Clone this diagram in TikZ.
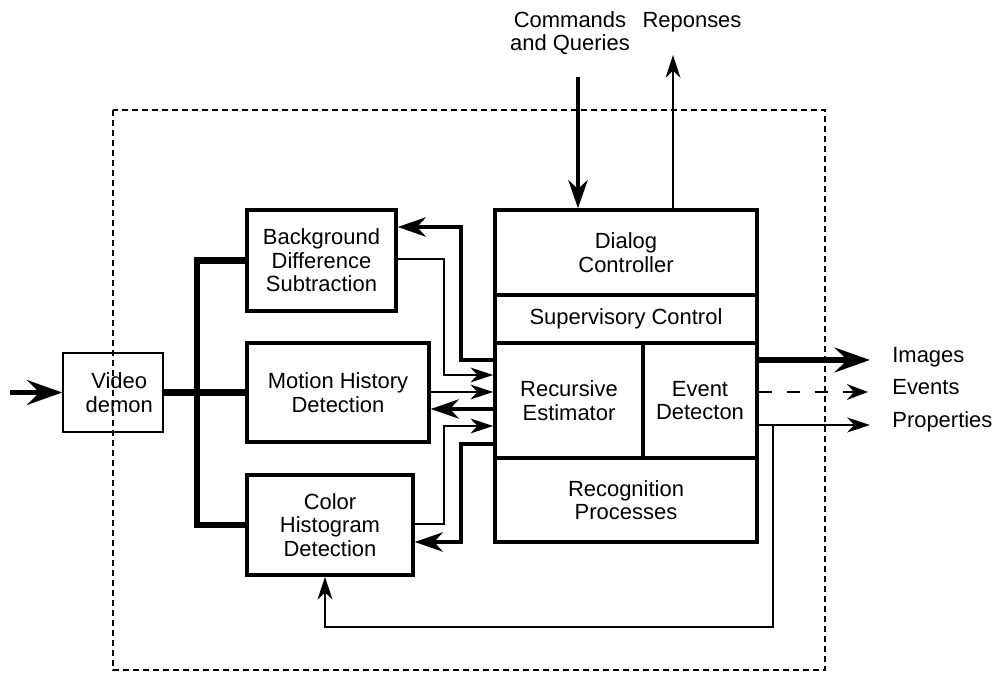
\documentclass[tikz,border=0pt]{standalone}
\usepackage{fontspec}
\setmainfont{Liberation Sans}
\usetikzlibrary{arrows.meta}
\tikzset{
	box/.style={draw, line width=2pt, align=center, inner sep=0pt},
	thinbox/.style={draw, line width=0.8pt, align=center, inner sep=0pt},
	lbl/.style={inner sep=0pt, align=center},
	bus/.style={line width=3.6pt},
	fbthick/.style={line width=2pt, -{Stealth[length=16pt,width=11pt,inset=5pt]}},
	fbthin/.style={line width=0.8pt, -{Stealth[length=13pt,width=8.5pt,inset=4pt]}},
	bigarrow/.style={line width=3.4pt, -{Stealth[length=20pt,width=14pt,inset=7pt]}}
}
\begin{document}
\begin{tikzpicture}[x=0.02cm, y=-0.02cm, font=\fontsize{12.5}{13.4}\selectfont, line join=miter]
		\useasboundingbox (0,0) rectangle (992,675);
		% outer frame
		\draw[line width=1.4pt, dash pattern=on 0.12cm off 0.08cm] (113,110) rectangle (825,670);
		% blocks
		\node[thinbox, minimum width=2cm, minimum height=1.58cm] (video) at (113,392.5) {\hspace{0.25cm}Video\\\hspace{0.25cm}demon};
		\node[box, minimum width=2.98cm, minimum height=2.02cm] (bg) at (321.5,260.5) {Background\\Difference\\Subtraction};
		\node[box, minimum width=3.64cm, minimum height=1.98cm] (motion) at (338,392.5) {Motion History\\Detection};
		\node[box, minimum width=3.32cm, minimum height=2cm] (color) at (330,525) {Color\\Histogram\\Detection};
		\node[box, minimum width=5.24cm, minimum height=1.7cm] (dialog) at (626,252.5) {Dialog\\Controller};
		\node[box, minimum width=5.24cm, minimum height=0.96cm] (superv) at (626,319) {Supervisory Control};
		\node[box, minimum width=2.96cm, minimum height=2.3cm] (recur) at (569,400.5) {Recursive\\Estimator};
		\node[box, minimum width=2.28cm, minimum height=2.3cm] (event) at (700,400.5) {Event\\Detecton};
		\node[box, minimum width=5.24cm, minimum height=1.68cm] (recog) at (626,500) {Recognition\\Processes};
		% labels
		\node[lbl] (cmdtxt) at (570,33) {Commands\\and Queries};
		\node[lbl] (resptxt) at (692,22) {Reponses};
		\node[lbl, anchor=west] (imgtxt) at (892,357) {Images};
		\node[lbl, anchor=west] (evtxt) at (892,387) {Events};
		\node[lbl, anchor=west] (proptxt) at (892,422) {Properties};
		\path (10,392.5) coordinate (in) (197,392.5) coordinate (bus)
		(578,77) coordinate (cmd) (673,55) coordinate (resp)
		(870,360) coordinate (imgend) (868,392) coordinate (evend)
		(870,425) coordinate (propend) (773,425) coordinate (tap);
		% video input and bus
		\draw[bigarrow] (in) -- (video.west);
		\draw[bus] (video.east) -- (motion.west);
		\draw[bus] (bg.west) -| (bus |- color.west) -- (color.west);
		% commands and responses
		\draw[line width=2.3pt, -{Stealth[length=16pt,width=11pt,inset=5pt]}] (cmd) -- (cmd |- dialog.north);
		\draw[fbthin] (resp |- dialog.north) -- (resp);
		% estimator links
		\draw[fbthick] (recur.west |- 0,360) -| (461,227) -- (bg.east |- 0,227);
		\draw[fbthin] (bg.east |- 0,259) -| (444,375) -- (recur.west |- 0,375);
		\draw[fbthin] (motion.east |- 0,392) -- (recur.west |- 0,392);
		\draw[fbthick] (recur.west |- 0,409) -- (motion.east |- 0,409);
		\draw[fbthin] (color.east |- 0,524) -| (444,426) -- (recur.west |- 0,426);
		\draw[fbthick] (recur.west |- 0,444) -| (461,542) -- (color.east |- 0,542);
		% outputs
		\draw[bigarrow] (event.east |- imgend) -- (imgend);
		\draw[line width=1.3pt, dash pattern=on 0.26cm off 0.3cm, -{Stealth[length=12pt,width=9pt,inset=4pt]}] (event.east |- evend) -- (evend);
		\draw[fbthin] (event.east |- propend) -- (propend);
		\draw[fbthin] (tap) |- (325,627) -- (color.south -| 325,0);
	\end{tikzpicture}
\end{document}
